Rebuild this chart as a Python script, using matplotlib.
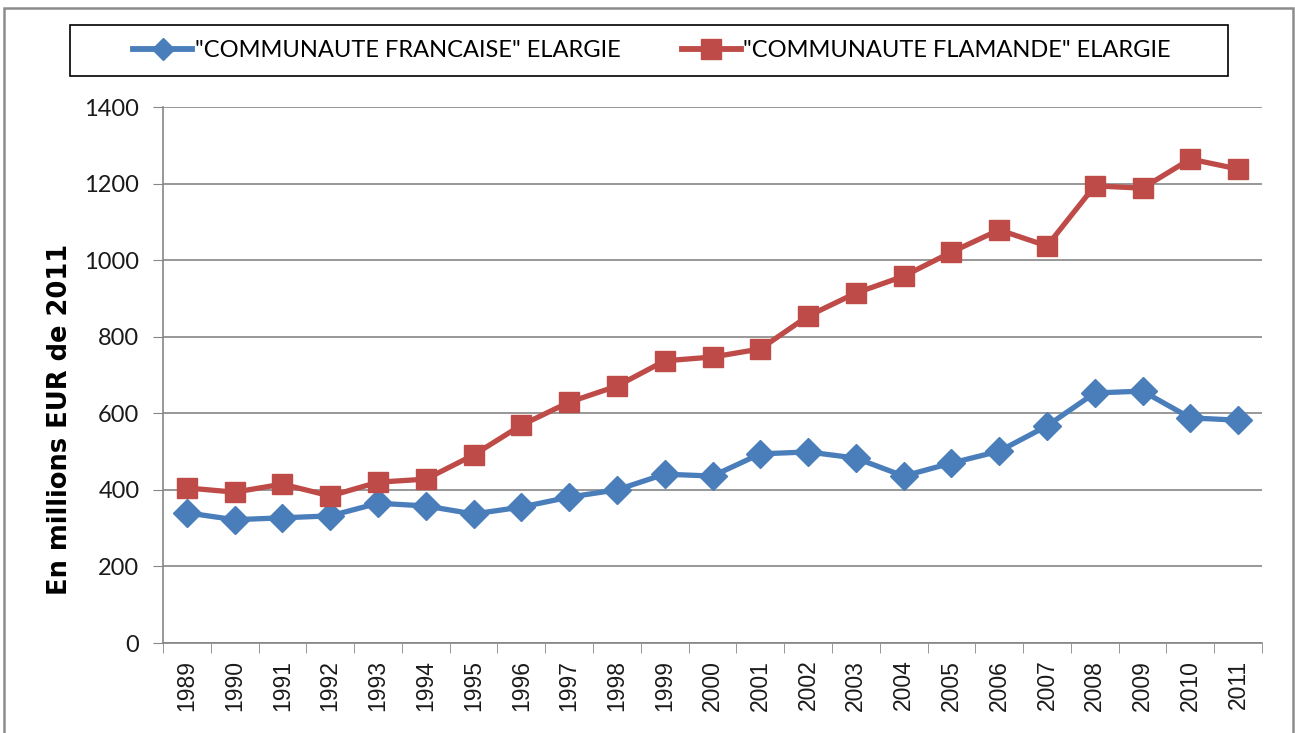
import matplotlib.pyplot as plt
from matplotlib.patches import Rectangle
from matplotlib.lines import Line2D

# ----- DATA -----
years = [str(y) for y in range(1989, 2012)]
francaise = [340, 322, 327, 332, 365, 358, 337, 355, 381, 400, 441, 436,
             494, 499, 483, 436, 470, 501, 567, 653, 658, 588, 582]
flamande = [405, 394, 415, 384, 420, 428, 491, 569, 629, 671, 737, 747,
            768, 854, 914, 958, 1021, 1079, 1037, 1194, 1188, 1264, 1238]
series_labels = ['"COMMUNAUTE FRANCAISE" ELARGIE', '"COMMUNAUTE FLAMANDE" ELARGIE']
y_ticks = [0, 200, 400, 600, 800, 1000, 1200, 1400]

BLUE = "#4A7EBB"
RED = "#BE4B48"
GRID = "#868686"

plt.rcParams['font.family'] = ['Liberation Sans', 'DejaVu Sans']

W, H = 1295, 733
fig = plt.figure(figsize=(W / 100, H / 100), dpi=100)

# outer chart border (bottom edge runs off the image)
fig.add_artist(Rectangle((4 / W, -0.05), 1289 / W, 1.05 - 8 / H, transform=fig.transFigure,
                         fill=False, edgecolor="#8c8c8c", lw=1.8))

# plot area in pixel coords
x0, x1, ytop, ybot = 163, 1262, 107, 643
ax = fig.add_axes([x0 / W, 1 - ybot / H, (x1 - x0) / W, (ybot - ytop) / H])

x = list(range(len(years)))
ax.plot(x, francaise, color=BLUE, lw=3.8, marker="D", markersize=14,
        markeredgecolor=BLUE, zorder=3, clip_on=False)
ax.plot(x, flamande, color=RED, lw=3.8, marker="s", markersize=15,
        markeredgecolor=RED, zorder=3, clip_on=False)

ax.set_xlim(-0.5, len(years) - 0.5)
ax.set_ylim(0, 1400)
ax.set_yticks(y_ticks)
ax.tick_params(axis="y", length=7, color=GRID, pad=10)
for lab in ax.get_yticklabels():
    lab.set_fontfamily(["Lato", "DejaVu Sans"])
    lab.set_fontsize(17)
    lab.set_color("#1a1a1a")
ax.yaxis.grid(True, color=GRID, lw=1.2)
ax.set_axisbelow(True)

# category labels between tick marks
ax.set_xticks(x)
ax.set_xticklabels(years, rotation=90, fontsize=16.5, color="#1a1a1a")
ax.tick_params(axis="x", length=0, pad=12)
ax.set_xticks([i - 0.5 for i in range(len(years) + 1)], minor=True)
ax.tick_params(axis="x", which="minor", length=7, color=GRID)

for side in ["top", "right"]:
    ax.spines[side].set_visible(False)
ax.spines["left"].set_color(GRID)
ax.spines["bottom"].set_color(GRID)
ax.spines["left"].set_linewidth(1.2)
ax.spines["bottom"].set_linewidth(1.2)

# axis title sits a bit below the middle of the plot area
fig.text(60 / W, 1 - 419 / H, "En millions EUR de 2011", rotation=90,
         ha="center", va="center", fontsize=18.5, fontweight="bold",
         family=["DejaVu Sans"])

# legend box
fig.add_artist(Rectangle((70 / W, 1 - 76 / H), (1228 - 70) / W, 51 / H,
                         transform=fig.transFigure, fill=False, edgecolor="black", lw=1.2))
handles = [
    Line2D([], [], color=BLUE, lw=4.2, marker="D", markersize=11),
    Line2D([], [], color=RED, lw=4.2, marker="s", markersize=14),
]
fig.legend(handles, series_labels, loc="center", ncol=2, frameon=False,
           bbox_to_anchor=(652 / W, 1 - 50.5 / H),
           handlelength=2.5, handletextpad=0.1, columnspacing=2.6,
           prop={"family": ["Lato", "DejaVu Sans"], "size": 17})

fig.savefig("out.png", dpi=100)
